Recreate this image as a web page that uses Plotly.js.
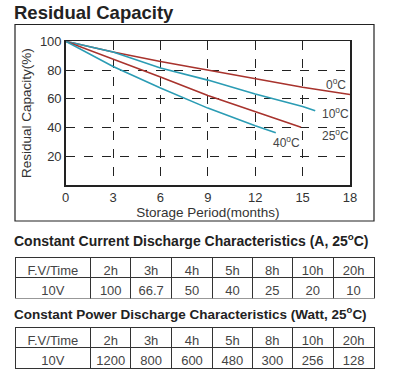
<!DOCTYPE html>
<html><head><meta charset="utf-8">
<script src="https://cdn.plot.ly/plotly-3.0.1.min.js"></script>
<style>html,body{margin:0;padding:0;background:#fff}#c{width:395px;height:380px}</style>
</head><body><div id="c"></div>
<script>
const months = [0, 3, 6, 9, 12, 15, 18];
const cap0 = [100, 92.5, 86, 80, 74, 68, 63];
const months10 = [0, 3, 6, 9, 12, 15, 15.8];
const cap10 = [100, 92.6, 81.4, 73, 63.3, 54.6, 51.6];
const months25 = [0, 3, 6, 9, 12, 14.9];
const cap25 = [100, 87.7, 75.1, 62.3, 51.2, 40.2];
const months40 = [0, 3, 6, 7.5, 9, 12, 13.3];
const cap40 = [100, 82.5, 67.5, 60.5, 53.5, 41.2, 36.3];
const curveLabels = ["0<sup>o</sup>C", "10<sup>o</sup>C", "25<sup>o</sup>C", "40<sup>o</sup>C"];

const xTicks = [0, 3, 6, 9, 12, 15, 18];
const yTicks = [20, 40, 60, 80, 100];

const tableHeader = ["F.V/Time", "2h", "3h", "4h", "5h", "8h", "10h", "20h"];
const currentRow = ["10V", "100", "66.7", "50", "40", "25", "20", "10"];
const powerRow = ["10V", "1200", "800", "600", "480", "300", "256", "128"];

const RED = "#a8332d", BLUE = "#2b9cb4";
const W = 395, H = 380;
const px = v => v / W, py = v => 1 - v / H;
const F = "Liberation Sans, Arial, sans-serif";

function line(x, y, c) {
  return {x: x, y: y, type: "scatter", mode: "lines", line: {color: c, width: 1.6}, hoverinfo: "skip", showlegend: false, xaxis: "x", yaxis: "y"};
}
function table(row, top) {
  return {
    type: "table",
    domain: {x: [px(15), px(374)], y: [py(top + 42), py(top)]},
    columnwidth: [76, 40, 41, 41, 40, 40, 41, 41],
    header: {values: tableHeader, height: 20, align: "center",
      line: {color: "#333", width: 1}, fill: {color: "#fff"},
      font: {family: F, size: 13, color: "#444"}},
    cells: {values: row.map(v => [v]), height: 21, align: "center",
      line: {color: "#333", width: 1}, fill: {color: "#fff"},
      font: {family: F, size: 13, color: "#444"}}
  };
}

const data = [
  line(months, cap0, RED),
  line(months10, cap10, BLUE),
  line(months25, cap25, RED),
  line(months40, cap40, BLUE),
  table(currentRow, 257.5),
  table(powerRow, 327.5)
];

const layout = {
  width: W, height: H,
  margin: {l: 0, r: 0, t: 0, b: 0},
  paper_bgcolor: "#fff", plot_bgcolor: "#fff",
  font: {family: F, color: "#333"},
  showlegend: false,
  xaxis: {domain: [px(65.7), px(350)], range: [0, 18], tickvals: xTicks, ticks: "",
    showline: true, linecolor: "#222", linewidth: 1.5, mirror: true,
    showgrid: true, gridcolor: "#222", griddash: "dash", gridwidth: 1, zeroline: false,
    tickfont: {size: 13, color: "#333"},
    title: {text: "Storage Period(months)", font: {size: 13.5, color: "#333"}, standoff: 3}},
  yaxis: {domain: [py(185), py(41.3)], range: [0, 100], tickvals: yTicks, ticks: "",
    showline: true, linecolor: "#222", linewidth: 1.5, mirror: true,
    showgrid: true, gridcolor: "#222", griddash: "dash", gridwidth: 1, zeroline: false,
    tickfont: {size: 13, color: "#333"},
    title: {text: "Residual Capacity(%)", font: {size: 13.5, color: "#333"}, standoff: 5}},
  shapes: [
    {type: "rect", xref: "paper", yref: "paper", x0: px(15), x1: px(374), y0: py(221), y1: py(24.5), line: {color: "#222", width: 1.2}}
  ],
  annotations: [
    {text: "<b>Residual Capacity</b>", xref: "paper", yref: "paper", x: px(12), y: py(13), xanchor: "left", yanchor: "middle", showarrow: false, font: {size: 18.5, color: "#222", family: F}},
    {text: "<b>Constant Current Discharge Characteristics (A, 25<sup>o</sup>C)</b>", xref: "paper", yref: "paper", x: px(12), y: py(240), xanchor: "left", yanchor: "middle", showarrow: false, font: {size: 14, color: "#222", family: F}},
    {text: "<b>Constant Power Discharge Characteristics (Watt, 25<sup>o</sup>C)</b>", xref: "paper", yref: "paper", x: px(12), y: py(313), xanchor: "left", yanchor: "middle", showarrow: false, font: {size: 13.5, color: "#222", family: F}},
    {text: curveLabels[0], xref: "x", yref: "y", x: 17.1, y: 70, showarrow: false, font: {size: 12, color: "#444"}},
    {text: curveLabels[1], xref: "x", yref: "y", x: 17.1, y: 50, showarrow: false, font: {size: 12, color: "#444"}},
    {text: curveLabels[2], xref: "x", yref: "y", x: 17.1, y: 34.5, showarrow: false, font: {size: 12, color: "#444"}},
    {text: curveLabels[3], xref: "x", yref: "y", x: 14, y: 30, showarrow: false, font: {size: 12, color: "#444"}}
  ]
};
Plotly.newPlot("c", data, layout, {displayModeBar: false, staticPlot: true});
</script></body></html>
